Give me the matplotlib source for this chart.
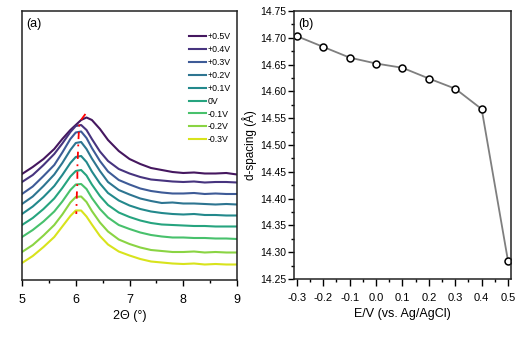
import numpy as np
import matplotlib
matplotlib.use("Agg")
import matplotlib.pyplot as plt
from matplotlib.ticker import MultipleLocator

plt.rcParams['font.family'] = ['Liberation Sans', 'DejaVu Sans']

# (a) XRD patterns, intensity (offset stack, arb. units)
two_theta = [5.0, 5.2, 5.4, 5.6, 5.75, 5.9, 6.0, 6.1, 6.2, 6.3, 6.45, 6.6,
             6.8, 7.0, 7.2, 7.4, 7.6, 7.8, 8.0, 8.2, 8.4, 8.6, 8.8, 9.0]
labels = ['+0.5V', '+0.4V', '+0.3V', '+0.2V', '+0.1V', '0V', '-0.1V', '-0.2V', '-0.3V']
i_p05 = [106, 113, 121, 131, 141, 150, 155, 160, 162.5, 160, 151, 140,
         129, 121, 116, 112, 110, 108, 107, 107.5, 106.5, 106.5, 107, 105.5]
i_p04 = [98, 105, 115, 126, 136.5, 148, 154, 155, 150, 141, 128.5, 119,
         111, 106.5, 103, 100.5, 99.5, 98.5, 98, 98.5, 97.5, 98, 98, 97.5]
i_p03 = [86, 93.5, 104, 115, 127.5, 141, 147.5, 148.5, 142, 132, 119, 108.5,
         100, 95.5, 91.5, 89, 87.5, 86.5, 86.5, 87, 86, 86.5, 86, 86]
i_p02 = [76, 83.5, 94, 105.5, 117, 130, 137, 138, 131, 121.5, 109, 98,
         90, 85.5, 81.5, 79, 77, 77.5, 76.5, 76.5, 76, 75.5, 76, 75.5]
i_p01 = [66, 73.5, 83, 94, 105, 117, 123, 124, 118, 108.5, 96.5, 87,
         79.5, 74.5, 71, 68.5, 67, 66, 65.5, 66, 65, 65, 64.5, 64.5]
i_0 = [55, 62, 71, 81.5, 92, 103.5, 109, 110, 104.5, 95.5, 84, 75,
       67.5, 63, 59.5, 57, 55.5, 55, 54.5, 54, 54, 53.5, 53.5, 53.5]
i_m01 = [43, 50, 58.5, 68.5, 78.5, 90, 95.5, 96, 91, 82, 71, 62.5,
         55, 51, 47.5, 45, 43.5, 42.5, 42.5, 42, 42, 41.5, 41.5, 41]
i_m02 = [28, 35, 44.5, 55, 65.5, 77.5, 83, 83.5, 78, 69, 57.5, 48.5,
         40.5, 36, 32.5, 30, 29, 28, 28, 28.5, 27.5, 28, 27.5, 27.5]
i_m03 = [17, 24, 33, 43, 53.5, 64, 69.5, 69.5, 63.5, 55.5, 44, 35.5,
         28.5, 24.5, 21, 18.5, 17.5, 16.5, 16, 16.5, 15.5, 16, 15.5, 15.5]
patterns = [i_p05, i_p04, i_p03, i_p02, i_p01, i_0, i_m01, i_m02, i_m03]
colors = ['#45175f', '#47347f', '#3e5b97', '#2e7591', '#23898c',
          '#26a47f', '#48c16c', '#8ad443', '#d8e31c']

peak_2theta = [6.18, 6.07, 6.06, 6.05, 6.04, 6.03, 6.03, 6.02, 6.01]
peak_int = [166, 158, 151, 140, 126, 112, 98, 85.5, 66]

# (b) d-spacing vs potential
potential = [-0.3, -0.2, -0.1, 0.0, 0.1, 0.2, 0.3, 0.4, 0.5]
d_spacing = [14.703, 14.683, 14.663, 14.652, 14.644, 14.624, 14.605, 14.567, 14.283]

fig = plt.figure(figsize=(5.3, 3.38), dpi=100)
ax1 = fig.add_axes([0.0415, 0.1716, 0.4057, 0.7959])
ax2 = fig.add_axes([0.5547, 0.1746, 0.4094, 0.7929])

for lab, y, c in zip(labels, patterns, colors):
    ax1.plot(two_theta, y, color=c, lw=1.5, label=lab)
ax1.plot(peak_2theta, peak_int, color='red', lw=1.3, dashes=(4, 3, 1, 3), zorder=5)

ax1.set_xlim(5, 9)
ax1.set_ylim(0, 269)
ax1.set_yticks([])
ax1.xaxis.set_major_locator(MultipleLocator(1))
ax1.xaxis.set_minor_locator(MultipleLocator(0.5))
ax1.tick_params(axis='x', which='major', direction='out', length=4, width=1, labelsize=9, pad=6)
ax1.tick_params(axis='x', which='minor', direction='out', length=2.5, width=1)
ax1.set_xlabel('2Θ (°)', fontsize=9, labelpad=3)
ax1.text(0.02, 0.975, '(a)', transform=ax1.transAxes, fontsize=9, va='top')
ax1.legend(loc='upper right', bbox_to_anchor=(1.0, 0.945), frameon=False, fontsize=6.3,
           handlelength=1.9, handletextpad=0.2, labelspacing=0.45, borderpad=0.2)

ax2.plot(potential, d_spacing, color='#7f7f7f', lw=1.3, marker='o', ms=5,
         mfc='white', mec='black', mew=1.1)
ax2.set_xlim(-0.311, 0.511)
ax2.set_ylim(14.25, 14.75)
ax2.xaxis.set_major_locator(MultipleLocator(0.1))
ax2.xaxis.set_minor_locator(MultipleLocator(0.05))
ax2.yaxis.set_major_locator(MultipleLocator(0.05))
ax2.yaxis.set_minor_locator(MultipleLocator(0.025))
ax2.xaxis.set_major_formatter(plt.FuncFormatter(lambda v, p: f'{v:.1f}'))
ax2.yaxis.set_major_formatter(plt.FuncFormatter(lambda v, p: f'{v:.2f}'))
ax2.tick_params(axis='x', which='major', direction='out', length=5, width=1, labelsize=8, pad=5)
ax2.tick_params(axis='y', which='major', direction='out', length=4.5, width=1, labelsize=7.5, pad=1)
ax2.tick_params(which='minor', direction='out', length=2.5, width=1)
ax2.set_xlabel('E/V (vs. Ag/AgCl)', fontsize=9, labelpad=4)
ax2.set_ylabel('d-spacing (Å)', fontsize=8.5)
ax2.yaxis.set_label_coords(-0.17, 0.5)
ax2.text(0.02, 0.975, '(b)', transform=ax2.transAxes, fontsize=9, va='top')

for ax in (ax1, ax2):
    for s in ax.spines.values():
        s.set_linewidth(1.1)
        s.set_color('#222222')

fig.savefig('out.png', dpi=100)
